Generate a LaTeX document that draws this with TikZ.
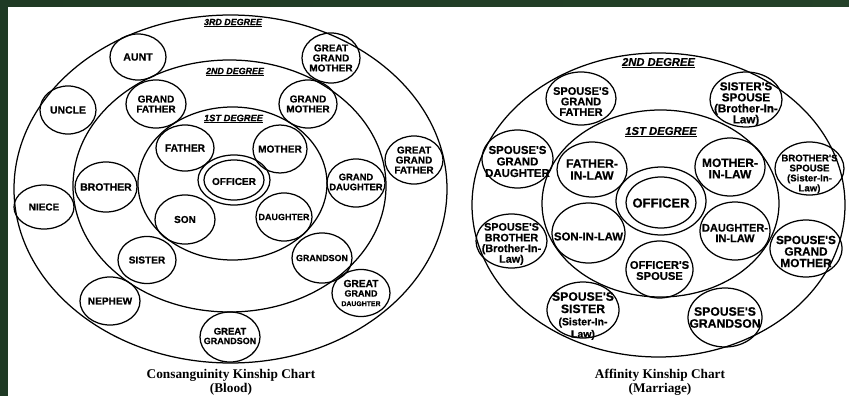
\documentclass[tikz,border=0pt]{standalone}
\usepackage{fontspec}
\setmainfont{Liberation Serif}
\newfontfamily\kinsans[FakeBold=0.6]{Liberation Sans}
\usetikzlibrary{shapes.geometric}
\definecolor{bardark}{HTML}{1F3A24}
\definecolor{barlight}{HTML}{4E7E52}
\tikzset{
  kinshape/.style={draw, ellipse, line width=1.25pt, inner sep=0pt, outer sep=0pt},
  kintext/.style={align=center, inner sep=0pt, text=black},
  degring/.style={draw, ellipse, line width=1.25pt, inner sep=0pt, outer sep=0pt},
  deglabel/.style={inner sep=0pt, font=\kinsans\bfseries\itshape},
  chartcap/.style={inner sep=0pt, font=\bfseries\fontsize{13.3}{14}\selectfont}
}
% #1 optional downward text shift, #2 name, #3 x, #4 y, #5 rx, #6 ry, #7 size, #8 skip, #9 text
\newcommand{\kin}[9][0]{%
  \node[kinshape, minimum width={2*#5pt}, minimum height={2*#6pt}] (#2) at (#3,#4) {};
  \node[kintext, font=\kinsans\bfseries\fontsize{#7}{#8}\selectfont] (#2-t) at ([yshift=-#1pt]#2.center) {#9};
}
\begin{document}
\begin{tikzpicture}[x=1pt, y=-1pt]
\useasboundingbox (0,0) rectangle (849,396);
\fill[white] (0,0) rectangle (849,396);
\fill[bardark] (0,0) rectangle (8,396);
\shade[left color=bardark, middle color=barlight, right color=bardark!90!barlight] (0,0) rectangle (849,7);

% ---------------- Consanguinity chart ----------------
\node[degring, minimum width=433pt, minimum height=348pt] (c3) at (230.5,189) {};
\node[degring, minimum width=313pt, minimum height=252pt] (c2) at (229.5,186) {};
\node[degring, minimum width=189pt, minimum height=153pt] (c1) at (232.5,183.5) {};
\node[deglabel, font=\kinsans\bfseries\itshape\fontsize{8.9}{9}\selectfont] (c3l) at (233,23) {\underline{3RD DEGREE}};
\node[deglabel, font=\kinsans\bfseries\itshape\fontsize{8.9}{9}\selectfont] (c2l) at (235,72) {\underline{2ND DEGREE}};
\node[deglabel, font=\kinsans\bfseries\itshape\fontsize{9.3}{9}\selectfont] (c1l) at (233.5,119) {\underline{1ST DEGREE}};

\node[kinshape, minimum width=72pt, minimum height=50pt] (coff) at (234,180) {};
\node[kinshape, minimum width=60pt, minimum height=40pt] (coffin) at (coff.center) {};
\node[kintext, font=\kinsans\bfseries\fontsize{10}{10}\selectfont] (coff-t) at ([yshift=-1.5pt]coff.center) {OFFICER};

\kin{aunt}{138}{57}{28}{23}{10.6}{10}{AUNT}
\kin{uncle}{68}{110}{28}{24}{10.4}{10}{UNCLE}
\kin{gfa}{156}{104}{30}{24}{10}{10}{GRAND\\FATHER}
\kin{ggm}{331}{58}{29}{25}{10}{10}{GREAT\\GRAND\\MOTHER}
\kin{gmo}{308}{104}{29}{24}{10}{10}{GRAND\\MOTHER}
\kin{ggf}{414}{160}{29}{24}{10}{10}{GREAT\\GRAND\\FATHER}
\kin{fat}{185}{148}{29}{23}{10.2}{10}{FATHER}
\kin{mot}{280}{149}{27}{24}{10.1}{10}{MOTHER}
\kin{bro}{106}{187}{31}{25}{10.4}{10}{BROTHER}
\kin[-1]{gda}{356}{183}{29}{24}{9.4}{10}{GRAND\\DAUGHTER}
\kin{niece}{44}{207}{30}{22}{10}{10}{NIECE}
\kin{son}{185}{219.5}{30}{24.5}{10}{10}{SON}
\kin{dau}{284}{217}{28}{24}{9}{10}{DAUGHTER}
\kin{sis}{147}{260}{29}{23.5}{10.1}{10}{SISTER}
\kin{gso}{322}{258}{30}{25}{8.9}{10}{GRANDSON}
\kin{nep}{110}{301}{30}{24}{10.1}{10}{NEPHEW}
\kin[-1]{ggs}{230}{337}{30}{25}{9.5}{9.5}{GREAT\\{\fontsize{9}{9}\selectfont GRANDSON}}
\kin{ggd}{361}{293}{29}{23.5}{10.2}{9.5}{GREAT\\{\fontsize{9}{9}\selectfont GRAND}\\{\fontsize{6.9}{8}\selectfont DAUGHTER}}

\node[chartcap] (ccap1) at (231,375) {Consanguinity Kinship Chart};
\node[chartcap] (ccap2) at (231,389) {(Blood)};

% ---------------- Affinity chart ----------------
\node[degring, minimum width=373pt, minimum height=304pt] (a2) at (658.5,205) {};
\node[degring, minimum width=237pt, minimum height=187pt] (a1) at (660.5,203.5) {};
\node[deglabel, font=\kinsans\bfseries\itshape\fontsize{11.2}{11}\selectfont] (a2l) at (658.5,63) {\underline{2ND DEGREE}};
\node[deglabel, font=\kinsans\bfseries\itshape\fontsize{11.3}{11}\selectfont] (a1l) at (661,132) {\underline{1ST DEGREE}};

\node[kinshape, minimum width=90pt, minimum height=68pt] (aoff) at (661,201) {};
\node[kinshape, minimum width=70pt, minimum height=51pt] (aoffin) at (661,202.5) {};
\node[kintext, font=\kinsans\bfseries\fontsize{13}{13}\selectfont] (aoff-t) at ([yshift=-2pt]aoff.center) {OFFICER};

\kin[3]{sgf}{581}{98.5}{35}{26.5}{11}{10.5}{SPOUSE'S\\GRAND\\FATHER}
\kin[4.5]{sss}{746}{99.5}{36}{27.5}{11.6}{11}{SISTER'S\\SPOUSE\\(Brother-In-\\Law)}
\kin[2.5]{sgd}{517.5}{159}{35.5}{29}{11.4}{11.5}{SPOUSE'S\\GRAND\\DAUGHTER}
\kin{fil}{592}{169.5}{35}{27.5}{12.2}{12}{FATHER-\\IN-LAW}
\kin[1.5]{mil}{730}{167}{35}{29}{12}{11.5}{MOTHER-\\IN-LAW}
\kin[5.5]{bss}{809.5}{168.5}{34.5}{26.5}{9.6}{10}{BROTHER'S\\SPOUSE\\(Sister-In-\\Law)}
\kin[3]{sbr}{511.5}{241}{35.5}{27}{10.8}{10.7}{SPOUSE'S\\BROTHER\\(Brother-In-\\Law)}
\kin[3.5]{sil}{588.5}{233}{36.5}{30}{11.4}{11}{SON-IN-LAW}
\kin[1]{osp}{659.5}{269.5}{33.5}{28.5}{11.2}{11}{OFFICER'S\\SPOUSE}
\kin[2]{dil}{735}{231}{35}{29}{11}{10.5}{DAUGHTER-\\IN-LAW}
\kin[3]{sgm}{806}{248.5}{36}{28.5}{11.8}{11.5}{SPOUSE'S\\GRAND\\MOTHER}
\kin[6]{ssi}{583}{310}{36}{28}{12.2}{12.3}{SPOUSE'S\\SISTER\\{\fontsize{10.5}{10}\selectfont (Sister-In-}\\{\fontsize{10.5}{10}\selectfont Law)}}
\kin{sgs}{725}{317.5}{37}{29.5}{12.2}{12}{SPOUSE'S\\GRANDSON}

\node[chartcap] (acap1) at (660,375) {Affinity Kinship Chart};
\node[chartcap] (acap2) at (660,389) {(Marriage)};
\end{tikzpicture}
\end{document}
